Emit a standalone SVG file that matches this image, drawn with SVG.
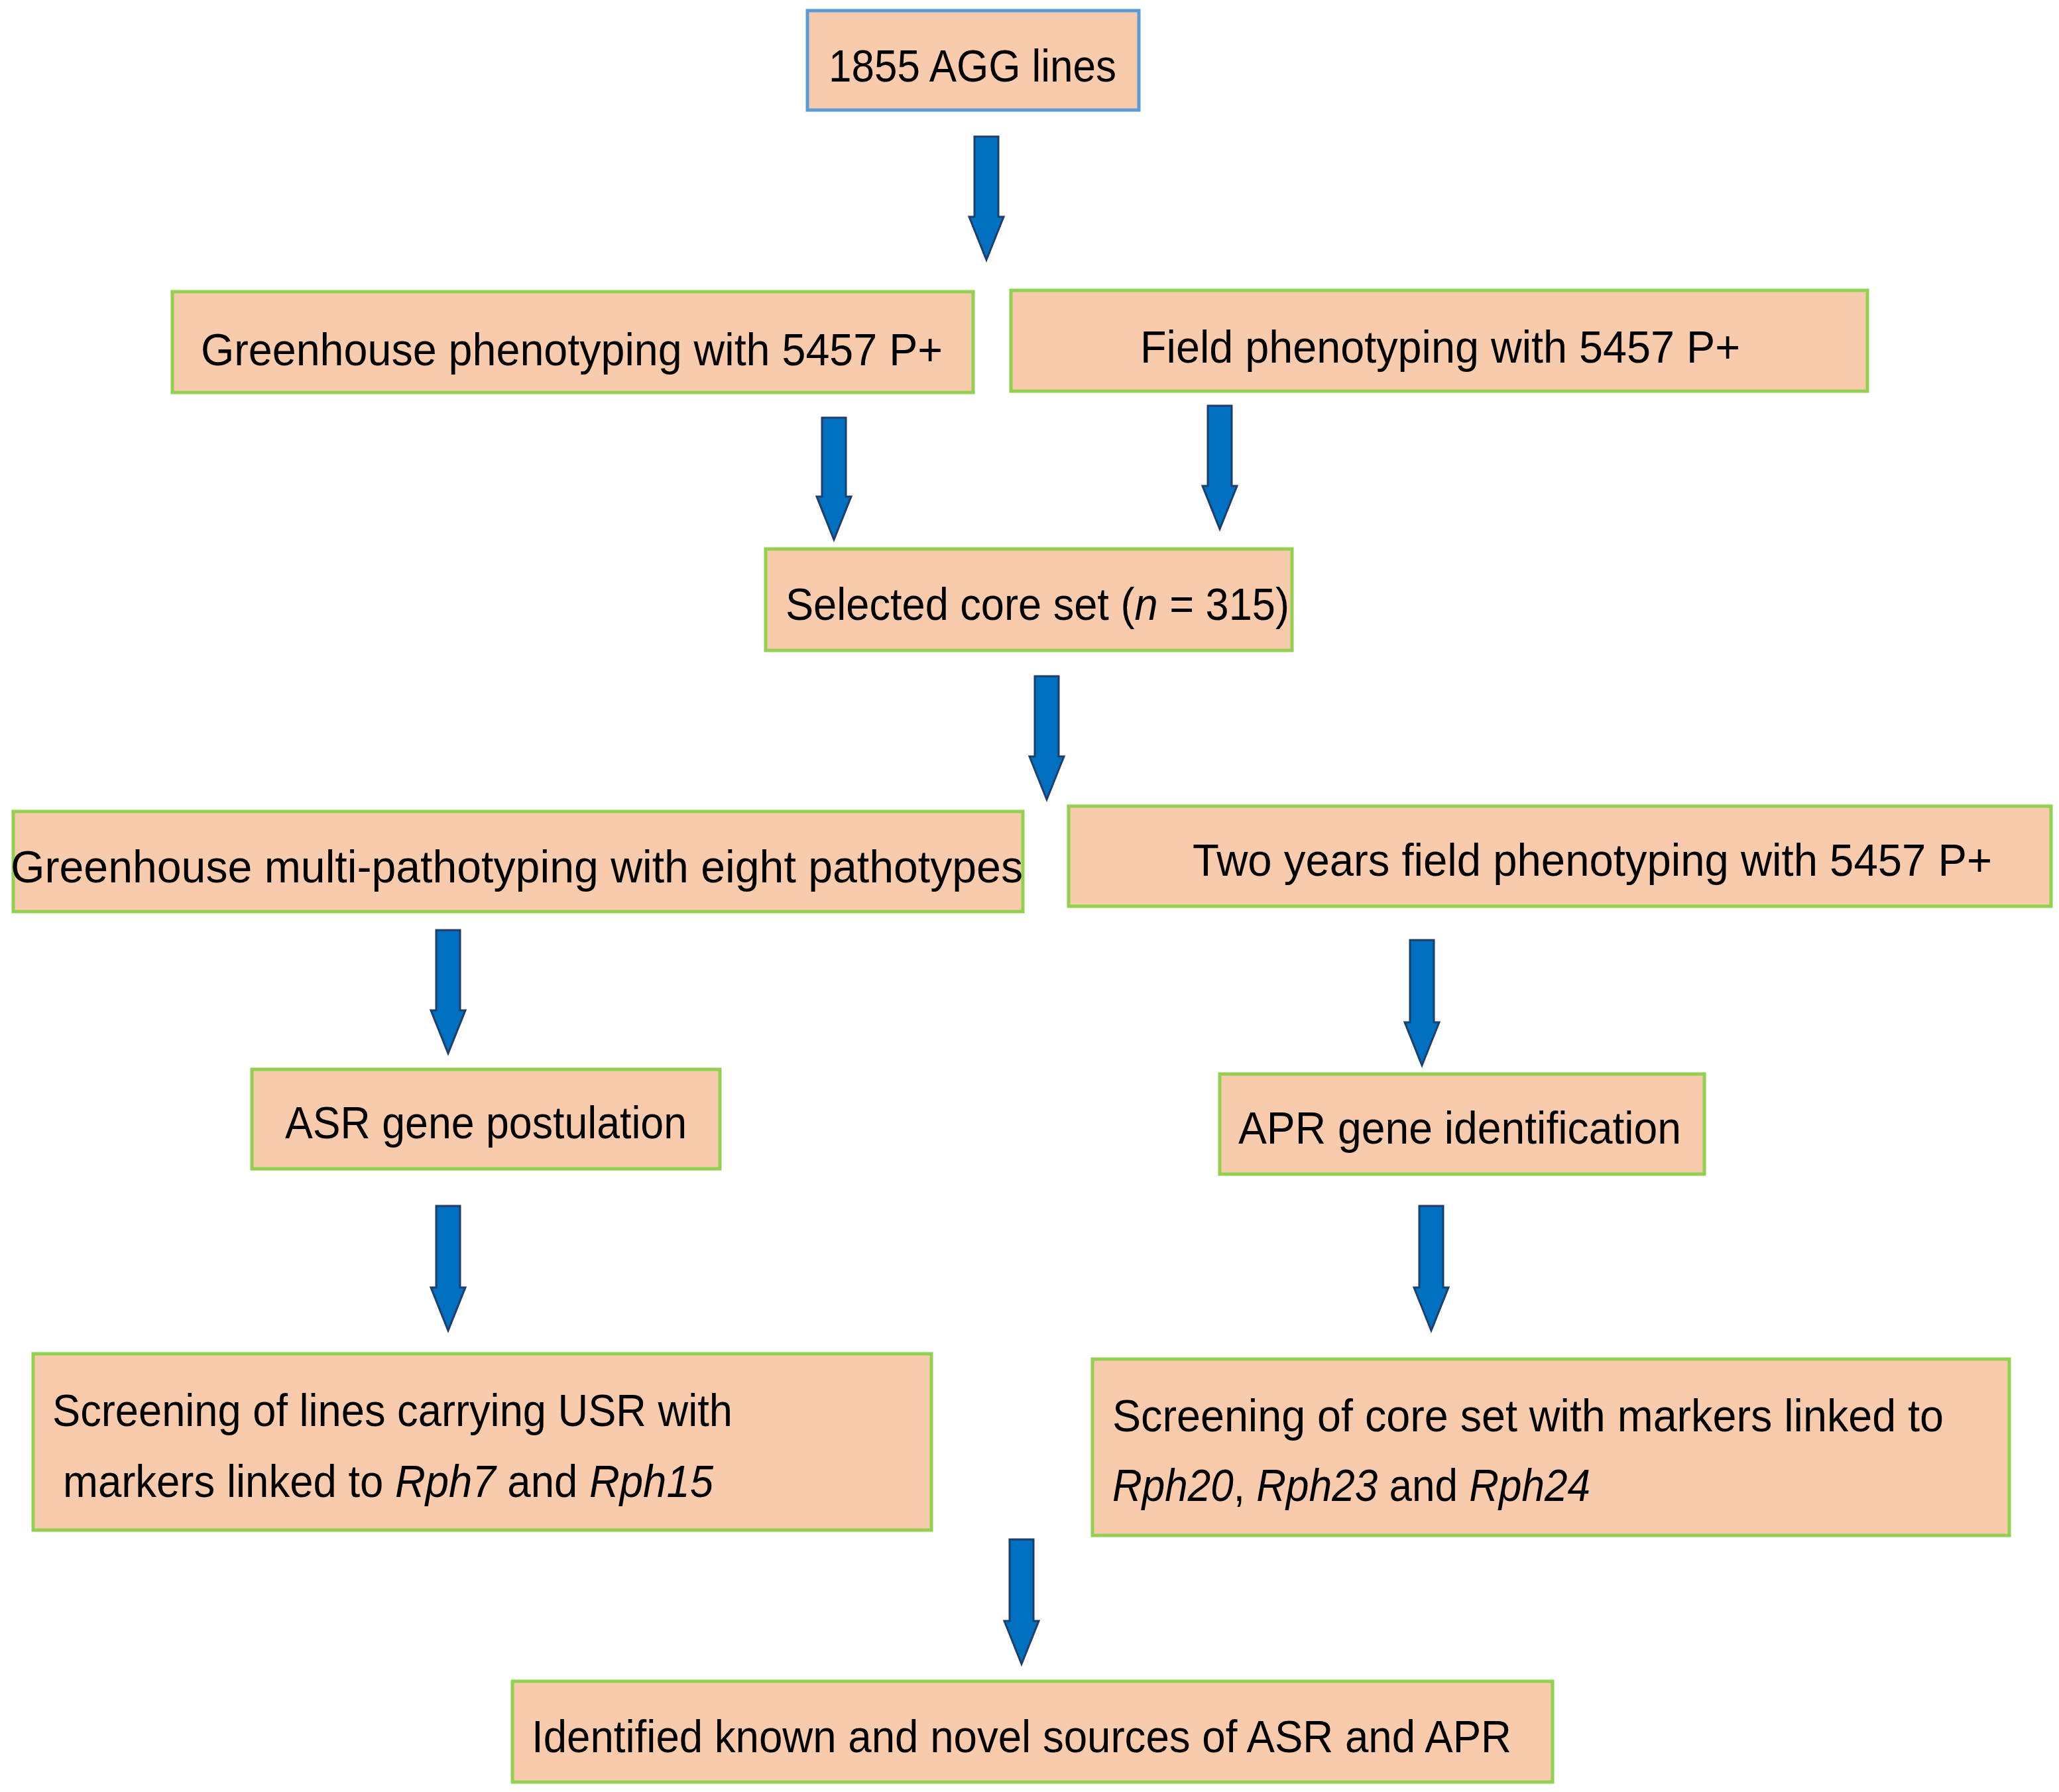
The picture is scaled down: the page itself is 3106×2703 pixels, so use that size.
<svg xmlns="http://www.w3.org/2000/svg" width="3106" height="2703" viewBox="0 0 3106 2703">
<style>
.b{fill:#f8cbad;stroke:#92d050;stroke-width:5}
.t{font-family:"Liberation Sans",Arial,sans-serif;font-size:68px;fill:#000}
.a{fill:#0070c0;stroke:#1f3f6a;stroke-width:3}
</style>
<defs>
<path id="arr" d="M-18,0 H18 V-66 H26 L0,0 L-26,-66 H-18 Z"/>
</defs>
<rect width="3106" height="2703" fill="#fff"/>
<g id="connectors">
<path class="a" d="M1470,206 H1506 V327 H1514 L1488,392 L1462,327 H1470 Z"/>
<path class="a" d="M1240,630 H1276 V749 H1284 L1258,814 L1232,749 H1240 Z"/>
<path class="a" d="M1822,612 H1858 V733 H1866 L1840,798 L1814,733 H1822 Z"/>
<path class="a" d="M1561,1020 H1597 V1141 H1605 L1579,1206 L1553,1141 H1561 Z"/>
<path class="a" d="M658,1403 H694 V1524 H702 L676,1589 L650,1524 H658 Z"/>
<path class="a" d="M2127,1418 H2163 V1542 H2171 L2145,1607 L2119,1542 H2127 Z"/>
<path class="a" d="M658,1819 H694 V1942 H702 L676,2007 L650,1942 H658 Z"/>
<path class="a" d="M2141,1819 H2177 V1942 H2185 L2159,2007 L2133,1942 H2141 Z"/>
<path class="a" d="M1523,2322 H1559 V2445 H1567 L1541,2510 L1515,2445 H1523 Z"/>
</g>
<g id="n1"><rect class="b" x="1218" y="16" width="500" height="150" style="stroke:#5b9bd5"/><text class="t" x="1250" y="123" textLength="434" lengthAdjust="spacingAndGlyphs">1855 AGG lines</text></g>
<g id="n2"><rect class="b" x="260" y="440" width="1208" height="152"/><text class="t" x="303" y="551" textLength="1119" lengthAdjust="spacingAndGlyphs">Greenhouse phenotyping with 5457 P+</text></g>
<g id="n3"><rect class="b" x="1525" y="438" width="1292" height="152"/><text class="t" x="1720" y="547" textLength="905" lengthAdjust="spacingAndGlyphs">Field phenotyping with 5457 P+</text></g>
<g id="n4"><rect class="b" x="1155" y="828" width="794" height="153"/><text class="t" x="1185" y="935" textLength="760" lengthAdjust="spacingAndGlyphs">Selected core set (<tspan font-style="italic">n</tspan> = 315)</text></g>
<g id="n5"><rect class="b" x="20" y="1224" width="1523" height="151"/><text class="t" x="16" y="1331" textLength="1527" lengthAdjust="spacingAndGlyphs">Greenhouse multi-pathotyping with eight pathotypes</text></g>
<g id="n6"><rect class="b" x="1612" y="1216" width="1482" height="151"/><text class="t" x="1799" y="1321" textLength="1206" lengthAdjust="spacingAndGlyphs">Two years field phenotyping with 5457 P+</text></g>
<g id="n7"><rect class="b" x="380" y="1613" width="706" height="150"/><text class="t" x="430" y="1717" textLength="606" lengthAdjust="spacingAndGlyphs">ASR gene postulation</text></g>
<g id="n8"><rect class="b" x="1840" y="1620" width="731" height="151"/><text class="t" x="1868" y="1725" textLength="668" lengthAdjust="spacingAndGlyphs">APR gene identification</text></g>
<g id="n9"><rect class="b" x="50" y="2042" width="1355" height="266"/>
<text class="t" x="79" y="2151" textLength="1026" lengthAdjust="spacingAndGlyphs">Screening of lines carrying USR with</text>
<text class="t" x="95" y="2258" textLength="981" lengthAdjust="spacingAndGlyphs">markers linked to <tspan font-style="italic">Rph7</tspan> and <tspan font-style="italic">Rph15</tspan></text></g>
<g id="n10"><rect class="b" x="1648" y="2050" width="1383" height="266"/>
<text class="t" x="1678" y="2159" textLength="1254" lengthAdjust="spacingAndGlyphs">Screening of core set with markers linked to</text>
<text class="t" x="1678" y="2264" textLength="721" lengthAdjust="spacingAndGlyphs"><tspan font-style="italic">Rph20</tspan>, <tspan font-style="italic">Rph23</tspan> and <tspan font-style="italic">Rph24</tspan></text></g>
<g id="n11"><rect class="b" x="773" y="2536" width="1569" height="152"/><text class="t" x="802" y="2643" textLength="1478" lengthAdjust="spacingAndGlyphs">Identified known and novel sources of ASR and APR</text></g>
</svg>
